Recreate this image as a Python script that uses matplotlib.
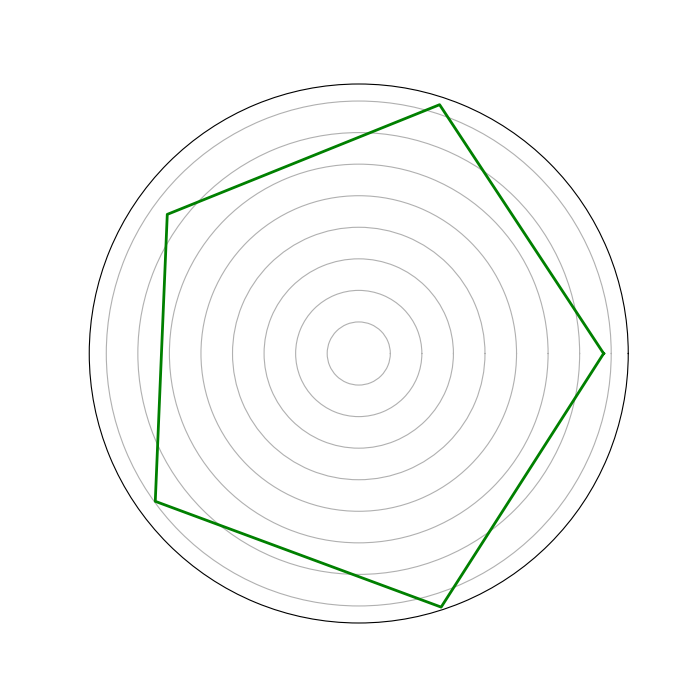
import numpy as np
from matplotlib import pyplot as plt

n_axes = 5
values = [7.76, 8.29, 7.50, 7.97, 8.45]

angles = np.linspace(0, 2 * np.pi, n_axes, endpoint=False)
r = values + values[:1]
theta = np.concatenate([angles, angles[:1]])

fig = plt.figure(figsize=(7, 7), dpi=100)
ax = fig.add_subplot(111, polar=True)
ax.plot(theta, r, color='green', linewidth=2)

ax.set_ylim(0, 8.54)
ax.set_xticks([])
ax.set_yticks(np.arange(1, 9))
ax.set_yticklabels([])
ax.yaxis.grid(True, color='#b0b0b0', linewidth=0.8)

fig.savefig('out.png')
